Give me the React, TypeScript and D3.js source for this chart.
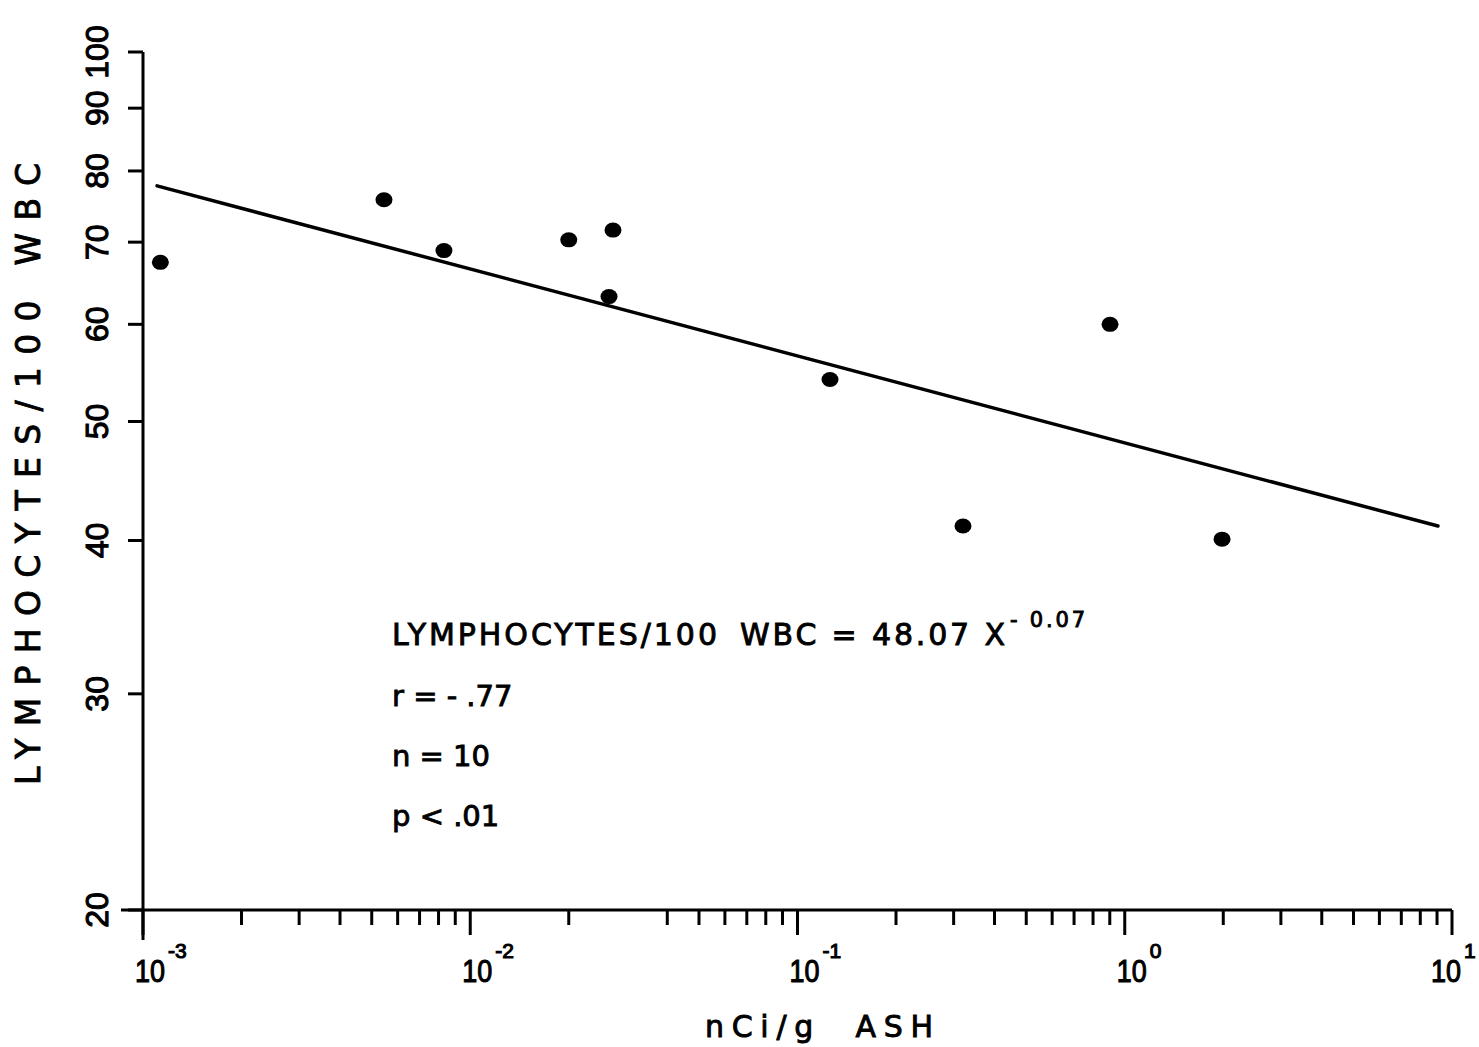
import * as d3 from 'd3';

// points (nCi/g ash vs lymphocytes per 100 WBC)
const doseValues = [0.00113, 0.00545, 0.00831, 0.02, 0.0273, 0.02655, 0.1257, 0.3204, 0.9016, 1.983];
const lymphValues = [67.4, 75.8, 68.9, 70.3, 71.6, 63.2, 54.1, 41.1, 60.0, 40.1];

// regression line endpoints as drawn
const fitX = [0.001104, 9.06];
const fitY = [77.8, 41.1];

const yTickValues = [20, 30, 40, 50, 60, 70, 80, 90, 100];
const yTickLabels = ['20', '30', '40', '50', '60', '70', '80', '90', '100'];
const xMajorExponents = [-3, -2, -1, 0, 1];
const xMinorMissing = [0.03]; // the original has no tick at 3x10^-2

const statLines = ['r = - .77', 'n = 10', 'p < .01'];

const FONT = '"DejaVu Sans", "Liberation Sans", Arial, sans-serif';
const DIGITS = '"Liberation Sans", Arial, sans-serif';

export default function App() {
  const width = 1479;
  const height = 1047;

  const x = d3.scaleLog().domain([1e-3, 10]).range([143, 1452]);
  const y = d3.scaleLog().domain([20, 100]).range([910, 52]);

  const minorTicks: number[] = [];
  xMajorExponents.slice(0, -1).forEach(e => {
    for (let m = 2; m <= 9; m++) {
      const v = +(m * Math.pow(10, e)).toPrecision(3);
      if (!xMinorMissing.includes(v)) minorTicks.push(v);
    }
  });

  const points = doseValues.map((d, i) => ({ x: d, y: lymphValues[i] }));
  const fit = fitX.map((d, i) => ({ x: d, y: fitY[i] }));
  const line = d3.line<{ x: number; y: number }>()
    .x(d => x(d.x))
    .y(d => y(d.y));

  const axisY = y(20);
  const textStyle = { fontFamily: FONT, fill: '#000', stroke: '#000', strokeWidth: 0.9 };
  const digitStyle = { ...textStyle, fontFamily: DIGITS, strokeWidth: 1.1 };

  return (
    <svg width={width} height={height} style={{ display: 'block', position: 'absolute', left: 0, top: 0, background: '#fff' }}>
      <rect width={width} height={height} fill="#fff" />

      {/* axes */}
      <line x1={x(1e-3)} x2={x(1e-3)} y1={y(100)} y2={940} stroke="#000" strokeWidth={3} />
      <line x1={121} x2={x(10)} y1={axisY} y2={axisY} stroke="#000" strokeWidth={3} />

      {/* y ticks + labels */}
      {yTickValues.map((v, i) => (
        <g key={'yt' + v}>
          <line x1={128} x2={x(1e-3)} y1={y(v)} y2={y(v)} stroke="#000" strokeWidth={3} />
          <text
            transform={`translate(108,${y(v)}) rotate(-90)`}
            textAnchor="middle"
            fontSize={32}
            style={digitStyle}
          >
            {yTickLabels[i]}
          </text>
        </g>
      ))}

      {/* x ticks */}
      {xMajorExponents.map(e => (
        <line key={'xM' + e} x1={x(Math.pow(10, e))} x2={x(Math.pow(10, e))} y1={axisY} y2={935} stroke="#000" strokeWidth={3} />
      ))}
      {minorTicks.map(v => (
        <line key={'xm' + v} x1={x(v)} x2={x(v)} y1={axisY} y2={925} stroke="#000" strokeWidth={3} />
      ))}
      {xMajorExponents.map(e => {
        const lx = Math.min(x(Math.pow(10, e)) - 8, width - 48);
        return (
          <g key={'xl' + e}>
            <text x={lx} y={982} fontSize={32} textLength={30} lengthAdjust="spacingAndGlyphs" style={digitStyle}>
              10
            </text>
            <text x={lx + 33} y={958} fontSize={21} style={digitStyle}>
              {e < 0 ? '-' + Math.abs(e) : String(e)}
            </text>
          </g>
        );
      })}

      {/* axis titles */}
      <text x={705} y={1037} fontSize={30} textLength={228} lengthAdjust="spacing" style={textStyle} xmlSpace="preserve">
        nCi/g  ASH
      </text>
      <text
        transform={`translate(40,474) rotate(-90)`}
        textAnchor="middle"
        fontSize={33}
        textLength={622}
        lengthAdjust="spacing"
        style={textStyle}
      >
        LYMPHOCYTES/100  WBC
      </text>

      {/* regression line */}
      <path d={line(fit) || ''} fill="none" stroke="#000" strokeWidth={3.5} strokeLinecap="round" />

      {/* data points */}
      {points.map((p, i) => (
        <ellipse key={'p' + i} cx={x(p.x)} cy={y(p.y)} rx={8.5} ry={7.5} fill="#000" />
      ))}

      {/* equation and stats */}
      <text x={392} y={645} fontSize={30} textLength={325} lengthAdjust="spacing" style={textStyle}>
        LYMPHOCYTES/100
      </text>
      <text x={740} y={645} fontSize={30} textLength={265} lengthAdjust="spacing" style={textStyle}>
        WBC = 48.07 X
      </text>
      <text x={1010} y={627} fontSize={21} textLength={75} lengthAdjust="spacing" style={textStyle}>
        - 0.07
      </text>
      {statLines.map((s, i) => (
        <text key={s} x={392} y={706 + i * 60} fontSize={29} style={textStyle}>
          {s}
        </text>
      ))}
    </svg>
  );
}
